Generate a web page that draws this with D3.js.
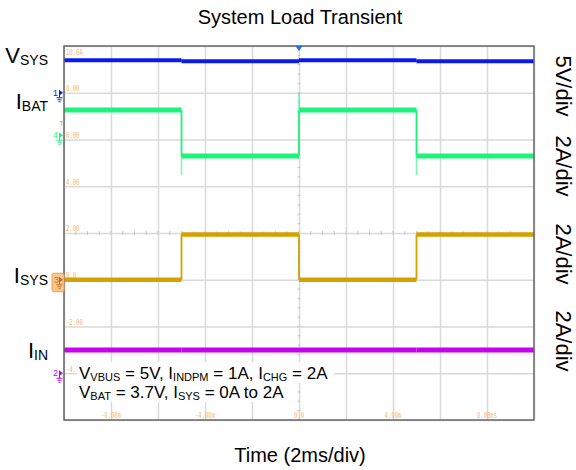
<!DOCTYPE html>
<html>
<head>
<meta charset="utf-8">
<script src="https://cdn.jsdelivr.net/npm/d3@7"></script>
<style>
  body { margin: 0; background: #fff; }
  svg { display: block; font-family: "Liberation Sans", Arial, sans-serif; }
  .grid line { stroke: #d9d9d9; stroke-width: 1.5; }
  .grid path { display: none; }
  .scope { font-family: "DejaVu Sans Mono", monospace; font-size: 8.5px; fill: #f7b77a; }
</style>
</head>
<body>
<svg id="svg" width="576" height="470"></svg>
<script>
// time axis in ms (2ms/div), vertical grid in divisions
const gridTimes = [-10, -8, -6, -4, -2, 0, 2, 4, 6, 8, 10];
const gridDivs = [-4, -3, -2, -1, 0, 1, 2, 3, 4];
const xTickValues = [-8, -4, 0, 4, 8];
const xTickLabels = ["-8.00m", "-4.00m", "0.0", "4.00m", "8.00ms"];
const yTickValues = [4, 3, 2, 1, 0, -1, -2, -3];
const yTickLabels = ["10.0A", "8.00", "6.00", "4.00", "2.00", "0.0", "-2.00", "-4."];

// load steps every 5ms
const edgeTimes = [-10, -5, 0, 5, 10];
const vsysLevels = [3.47, 3.37, 3.47, 3.37];   // V
const ibatLevels = [1.08, -0.89, 1.08, -0.89]; // A
const ibatSpikes = [-1.70, 1.82, -1.70];       // A, overshoot at each edge
const isysLevels = [0, 1.94, 0, 1.94];         // A
const iinLevels = [1.0, 1.0, 1.0, 1.0];        // A

const channelIds = ["1", "4", "3", "2"];
const channelMain = ["V", "I", "I", "I"];
const channelSub = ["SYS", "BAT", "SYS", "IN"];
const channelPerDiv = [5, 2, 2, 2];
const channelOffset = [3, 2.09, -1, -3];   // ground marker, in divisions
const channelScaleText = ["5V/div", "2A/div", "2A/div", "2A/div"];

const colors = ["#0a1ae8", "#1ff27a", "#d6a000", "#c800f0"];
const widths = [4, 5, 4.5, 5];

var margin = {top: 46, left: 64};
var plotW = 470, plotH = 374;

const svg = d3.select("#svg");

var x = d3.scaleLinear().domain([-10, 10]).range([margin.left, margin.left + plotW]);
var yDiv = d3.scaleLinear().domain([-4, 4]).range([margin.top + plotH, margin.top]);

// title and axis title
svg.append("text")
    .attr("x", 300).attr("y", 24)
    .attr("text-anchor", "middle")
    .style("font-size", "20px")
    .text("System Load Transient");

svg.append("text")
    .attr("x", 300).attr("y", 462)
    .attr("text-anchor", "middle")
    .style("font-size", "20px")
    .text("Time (2ms/div)");

// grid
svg.append("g")
    .attr("class", "grid")
    .attr("transform", "translate(0," + (margin.top + plotH) + ")")
    .call(d3.axisBottom(x).tickValues(gridTimes).tickSize(-plotH).tickFormat(""));

svg.append("g")
    .attr("class", "grid")
    .attr("transform", "translate(" + margin.left + ",0)")
    .call(d3.axisLeft(yDiv).tickValues(gridDivs).tickSize(-plotW).tickFormat(""));

// minor ticks on the centre lines
const minor = svg.append("g").attr("stroke", "#c8c8c8").attr("stroke-width", 1);
minor.selectAll(".mx")
    .data(d3.range(-10, 10.01, 0.5))
    .enter().append("line")
    .attr("x1", d => x(d)).attr("x2", d => x(d))
    .attr("y1", yDiv(0) - 2).attr("y2", yDiv(0) + 2);
minor.selectAll(".my")
    .data(d3.range(-4, 4.01, 0.2))
    .enter().append("line")
    .attr("x1", x(0) - 1.5).attr("x2", x(0) + 1.5)
    .attr("y1", d => yDiv(d)).attr("y2", d => yDiv(d));

// scope readout labels (condensed)
svg.selectAll(".ylab")
    .data(yTickValues)
    .enter().append("text")
    .attr("class", "scope")
    .attr("transform", (d, i) => "translate(" + (margin.left + 2) + "," +
        (i === 0 ? yDiv(d) + 8.5 : yDiv(d) - 1.6) + ") scale(0.66,1)")
    .text((d, i) => yTickLabels[i]);

svg.selectAll(".xlab")
    .data(xTickValues)
    .enter().append("text")
    .attr("class", "scope")
    .attr("transform", d => "translate(" + x(d) + "," + (margin.top + plotH - 2.5) + ") scale(0.66,1)")
    .attr("text-anchor", "middle")
    .text((d, i) => xTickLabels[i]);

// traces
const plot = svg.append("g");

function drawChannel(i, levels, spikes) {
  const yv = v => yDiv(v / channelPerDiv[i] + channelOffset[i]);
  const g = plot.append("g").attr("stroke", colors[i]);

  g.selectAll(".run")
      .data(levels)
      .enter().append("line")
      .attr("x1", (d, k) => x(edgeTimes[k]))
      .attr("x2", (d, k) => x(edgeTimes[k + 1]))
      .attr("y1", d => yv(d))
      .attr("y2", d => yv(d))
      .attr("stroke-width", widths[i]);

  g.selectAll(".edge")
      .data(levels.slice(1))
      .enter().append("line")
      .attr("x1", (d, k) => x(edgeTimes[k + 1]))
      .attr("x2", (d, k) => x(edgeTimes[k + 1]))
      .attr("y1", (d, k) => yv(levels[k]))
      .attr("y2", d => yv(d))
      .attr("stroke-width", 1.8);

  if (spikes) {
    g.selectAll(".spike")
        .data(spikes)
        .enter().append("line")
        .attr("x1", (d, k) => x(edgeTimes[k + 1]))
        .attr("x2", (d, k) => x(edgeTimes[k + 1]))
        .attr("y1", (d, k) => yv(levels[k + 1]))
        .attr("y2", d => yv(d))
        .attr("stroke-width", 1.5)
        .attr("stroke-opacity", 0.6);
  }
}

drawChannel(0, vsysLevels);
drawChannel(1, ibatLevels, ibatSpikes);
drawChannel(2, isysLevels);
drawChannel(3, iinLevels);

// frame
svg.append("rect")
    .attr("x", margin.left).attr("y", margin.top)
    .attr("width", plotW).attr("height", plotH)
    .attr("fill", "none")
    .attr("stroke", "#666")
    .attr("stroke-width", 1.5);

// trigger position marker
svg.append("path")
    .attr("d", "M" + (x(0) - 3.5) + "," + margin.top + "h7l-3.5,5z")
    .attr("fill", "#1f6fdc");

// channel ground markers
channelIds.forEach((id, i) => {
  const yg = yDiv(channelOffset[i]);
  const m = svg.append("g");
  if (id === "3") {
    m.append("rect")
        .attr("x", 52).attr("y", yg - 6.5)
        .attr("width", 12).attr("height", 18.5).attr("rx", 2)
        .attr("fill", "#f8c890").attr("stroke", "#eaa055");
  }
  const c = id === "3" ? "#c07020" : colors[i];
  m.append("text")
      .attr("x", id === "3" ? 54 : 53).attr("y", yg + 3)
      .style("font-size", "9px")
      .attr("fill", c)
      .text(id);
  m.append("path")
      .attr("d", "M59," + (yg - 3) + "L63," + yg + "L59," + (yg + 3) + "z")
      .attr("fill", c);
  m.append("path")
      .attr("d", "M59.5," + yg + "v5M56.5," + (yg + 5) + "h6M57.5," + (yg + 7) + "h4M58.5," + (yg + 9) + "h2")
      .attr("stroke", c).attr("stroke-width", 1).attr("fill", "none");
  if (id === "4") {
    m.append("text")
        .attr("x", 59).attr("y", yg - 9)
        .style("font-size", "8px")
        .attr("fill", c)
        .text("T");
  }
});

// left trace names
const nameBaselines = [62.7, 109.3, 283.3, 358.3];
channelMain.forEach((t, i) => {
  const lab = svg.append("text")
      .attr("x", 48).attr("y", nameBaselines[i])
      .attr("text-anchor", "end")
      .style("font-size", "22px");
  lab.append("tspan").text(t);
  lab.append("tspan").attr("dy", 2).style("font-size", "14px").text(channelSub[i]);
});

// right scale labels
const scaleCenters = [86, 166, 254, 341];
channelScaleText.forEach((t, i) => {
  svg.append("text")
      .attr("transform", "translate(556," + scaleCenters[i] + ") rotate(90)")
      .attr("text-anchor", "middle")
      .style("font-size", "22px")
      .text(t);
});

// test conditions
const note = svg.append("g");
note.append("rect").attr("x", 77).attr("y", 362).attr("width", 257).attr("height", 21).attr("fill", "#fff");
note.append("rect").attr("x", 77).attr("y", 383).attr("width", 215).attr("height", 19).attr("fill", "#fff");

function noteLine(y, parts) {
  const t = note.append("text").attr("x", 79).attr("y", y).style("font-size", "17px");
  parts.forEach(p => {
    if (p[1]) {
      t.append("tspan").attr("dy", 2).style("font-size", "11px").text(p[0]);
    } else {
      t.append("tspan").attr("dy", p[2] ? -2 : 0).text(p[0]);
    }
  });
}
noteLine(378.5, [["V"], ["VBUS", 1], [" = 5V, I", 0, 1], ["INDPM", 1], [" = 1A, I", 0, 1], ["CHG", 1], [" = 2A", 0, 1]]);
noteLine(397.5, [["V"], ["BAT", 1], [" = 3.7V, I", 0, 1], ["SYS", 1], [" = 0A to 2A", 0, 1]]);
</script>
</body>
</html>
